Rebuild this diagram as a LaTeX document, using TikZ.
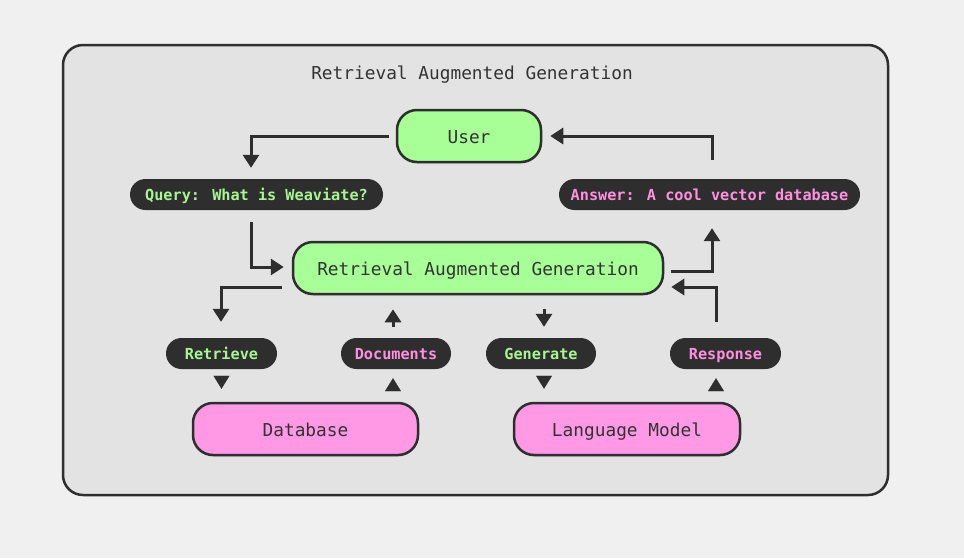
\documentclass[tikz,border=0pt]{standalone}
\usepackage{fontspec}
\newfontfamily\monof{DejaVu Sans Mono}
\usetikzlibrary{arrows.meta,shadows}
\definecolor{bgout}{HTML}{F0F0F0}
\definecolor{panel}{HTML}{E3E3E3}
\definecolor{dark}{HTML}{2E2E2E}
\definecolor{txt}{HTML}{333333}
\definecolor{gfill}{HTML}{A8FF98}
\definecolor{pfill}{HTML}{FF99E6}
\definecolor{gtext}{HTML}{A8F593}
\definecolor{ptext}{HTML}{FF8FDF}
\begin{document}
\begin{tikzpicture}[x=1pt,y=-1pt,
  bigbox/.style={draw=dark, line width=2.5pt, rounded corners=20pt, minimum height=52pt,
    inner sep=0pt, text=txt, font=\monof\fontsize{17.8}{20}\selectfont,
    text height=14pt, text depth=0pt,
    drop shadow={opacity=0.12, shadow xshift=0pt, shadow yshift=-2pt}},
  greenbox/.style={bigbox, fill=gfill},
  pinkbox/.style={bigbox, fill=pfill},
  pill/.style={fill=dark, rounded corners=15.5pt, minimum height=31pt, inner sep=0pt,
    font=\monof\bfseries\fontsize{15.2}{17}\selectfont,
    text height=12pt, text depth=0pt},
  gpill/.style={pill, text=gtext},
  ppill/.style={pill, text=ptext},
  arr/.style={draw=dark, line width=3pt, -{Triangle[length=13pt,width=16pt]}},
  tri/.style={draw=dark, line width=0.1pt, -{Triangle[length=13pt,width=16pt]}},
]
\useasboundingbox[fill=bgout] (0,0) rectangle (964,558);
\draw[draw=dark, line width=2.5pt, fill=panel, rounded corners=20pt] (63,45) rectangle (888,495);
\node[text=txt, font=\monof\fontsize{17.8}{20}\selectfont] (title) at (472,74.5) {Retrieval Augmented Generation};

\node[greenbox, minimum width=144pt] (user) at (469,136) {User};
\node[gpill, minimum width=253pt] (query) at (256.5,194.5) {Query: What is Weaviate?};
\node[ppill, minimum width=301pt] (answer) at (709.5,194.5) {Answer: A cool vector database};
\node[greenbox, minimum width=370pt] (rag) at (478,268) {Retrieval Augmented Generation};
\node[gpill, minimum width=111pt] (retrieve) at (221.5,353.5) {Retrieve};
\node[ppill, minimum width=110pt] (documents) at (396,353.5) {Documents};
\node[gpill, minimum width=110pt] (generate) at (541,353.5) {Generate};
\node[ppill, minimum width=111pt] (response) at (725.5,353.5) {Response};
\node[pinkbox, minimum width=225pt] (database) at (305.5,429) {Database};
\node[pinkbox, minimum width=226pt] (lm) at (627,429) {Language Model};

% User -> Query
\draw[arr] ([xshift=-7pt]user.west) -| ([xshift=-5.5pt,yshift=11pt]query.north);
% Answer -> User
\draw[arr] ([xshift=2.5pt,yshift=19pt]answer.north) |- ([xshift=8pt]user.east);
% Query -> RAG
\draw[arr] ([xshift=-5.5pt,yshift=-12pt]query.south) |- ([xshift=-8pt,yshift=1pt]rag.west);
% RAG -> Answer
\draw[arr] ([xshift=7pt,yshift=-3pt]rag.east) -| ([xshift=2.5pt,yshift=-18pt]answer.south);
% Response -> RAG
\draw[arr] ([xshift=-9.5pt,yshift=16pt]response.north) |- ([xshift=7pt,yshift=-19pt]rag.east);
% RAG -> Retrieve
\draw[arr] ([xshift=-10pt,yshift=-19pt]rag.west) -| ([xshift=-0.5pt,yshift=16pt]retrieve.north);
% Documents -> RAG
\draw[arr, shorten <=11pt, shorten >=14pt] ([xshift=-3pt]documents.north) -- ([xshift=-3pt]documents.north |- rag.south);
% RAG -> Generate
\draw[arr, shorten <=14pt, shorten >=11pt] ([xshift=3pt]generate.north |- rag.south) -- ([xshift=3pt]generate.north);
% Retrieve -> Database
\draw[tri, shorten <=8pt, shorten >=13pt] (retrieve.south) -- (retrieve.south |- database.north);
% Database -> Documents
\draw[tri, shorten <=12pt, shorten >=9pt] ([xshift=-3pt]documents.south |- database.north) -- ([xshift=-3pt]documents.south);
% Generate -> LM
\draw[tri, shorten <=8pt, shorten >=13pt] ([xshift=3pt]generate.south) -- ([xshift=3pt]generate.south |- lm.north);
% LM -> Response
\draw[tri, shorten <=12pt, shorten >=9pt] ([xshift=-9.5pt]response.south |- lm.north) -- ([xshift=-9.5pt]response.south);
\end{tikzpicture}
\end{document}
